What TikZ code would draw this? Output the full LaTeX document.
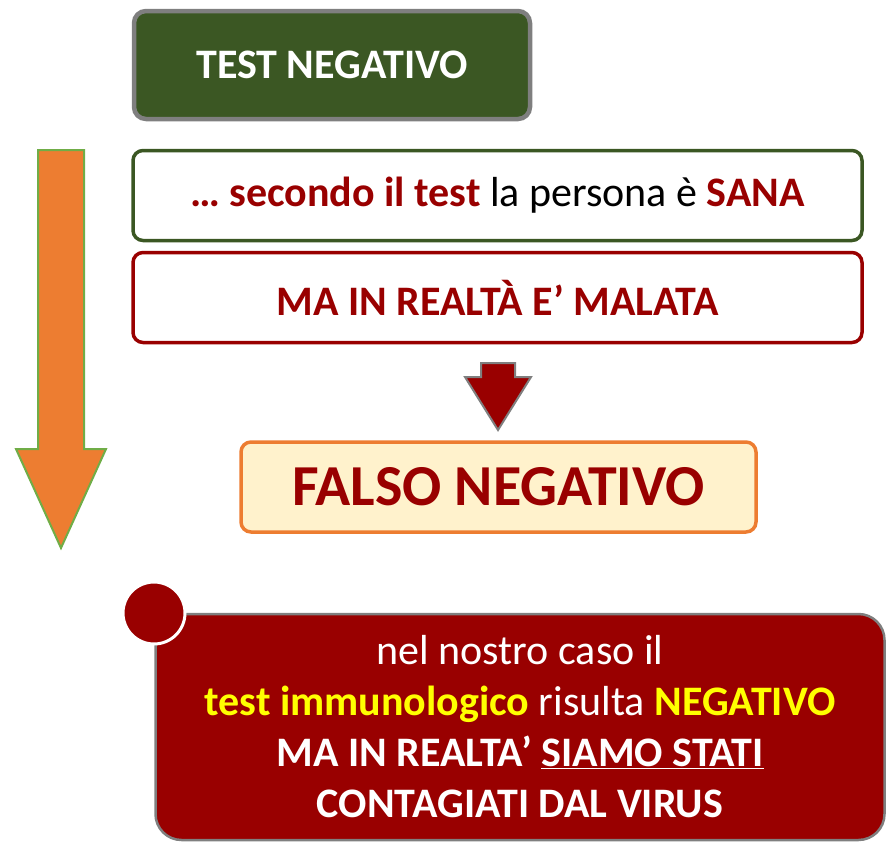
\documentclass[tikz,border=0pt]{standalone}
\usepackage{fontspec}
\setmainfont{Carlito}
\usepackage{tikz}
\definecolor{darkgreen}{HTML}{3B5723}
\definecolor{darkred}{HTML}{990000}
\definecolor{boxgray}{HTML}{7F7F7F}
\definecolor{cream}{HTML}{FFF2CC}
\definecolor{orangefill}{HTML}{ED7D31}
\definecolor{lightgreen}{HTML}{70AD47}
\definecolor{yellowtext}{HTML}{FFFF00}
\newcommand{\redbf}[1]{\textcolor{darkred}{\textbf{#1}}}
\newcommand{\yelbf}[1]{\textcolor{yellowtext}{\textbf{#1}}}

\begin{document}
\begin{tikzpicture}[x=1pt,y=-1pt,
  txt/.style={font=\fontsize{42}{51}\selectfont},
  outlinebox/.style={draw, line width=3.5pt, rounded corners=10pt, fill=white, minimum width=729pt, minimum height=90pt, txt}]
\useasboundingbox (0,0) rectangle (892,844);
% Top boxes
\node[draw=boxgray, line width=4.5pt, fill=darkgreen, rounded corners=12pt, minimum width=396pt, minimum height=108pt, text=white, font=\fontsize{42}{50}\selectfont\bfseries] (testneg) at (332,65) {TEST NEGATIVO};
\node[outlinebox, draw=darkgreen] (secondo) at (497.5,195.5) {\redbf{… secondo il test} la persona è \redbf{SANA}};
\node[outlinebox, draw=darkred, text=darkred, font=\fontsize{42}{50}\selectfont\bfseries] (malata) at (497.5,297.5) {MA IN REALTÀ E’ MALATA};

% Small arrow
\draw[draw=boxgray, line width=2pt, fill=darkred] (481,363) -- (515,363) -- (515,377) -- (531,377) -- (498,430) -- (465,377) -- (481,377) -- cycle;

\node[draw=orangefill, line width=3.5pt, fill=cream, rounded corners=10pt, minimum width=515pt, minimum height=90pt, text=darkred, font=\fontsize{58}{66}\selectfont\bfseries] (falso) at (498.5,487) {FALSO NEGATIVO};

% Big arrow
\draw[draw=lightgreen, line width=2pt, fill=orangefill] (38,150) -- (84,150) -- (84,449) -- (106,449) -- (61,548) -- (16,449) -- (38,449) -- cycle;

% Bottom box
\node[draw=boxgray, line width=2.5pt, fill=darkred, rounded corners=26pt, minimum width=729pt, minimum height=226pt, text=white, align=center, txt] (caso) at (520,727)
  {nel nostro caso il\\
   \yelbf{test immunologico} risulta \yelbf{NEGATIVO}\\
   \textbf{MA IN REALTA’ \underline{SIAMO STATI}}\\
   \textbf{CONTAGIATI DAL VIRUS}};
\node[circle, draw=white, line width=3pt, fill=darkred, minimum size=62pt] (dot) at (154,613) {};
\end{tikzpicture}
\end{document}
